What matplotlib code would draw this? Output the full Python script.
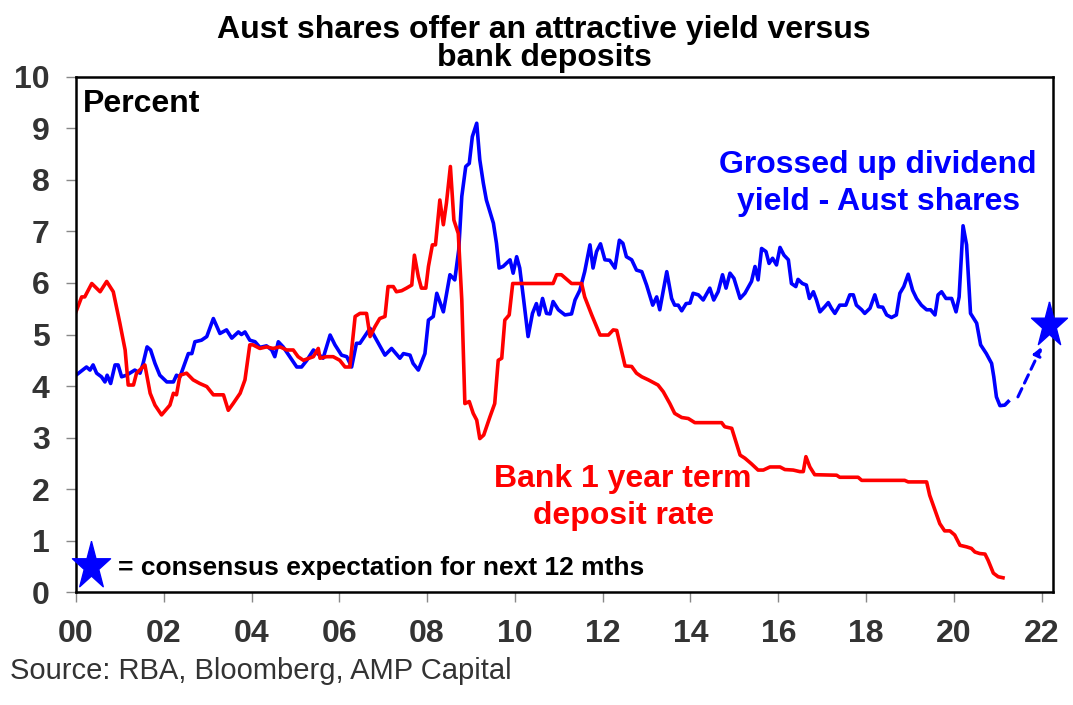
import matplotlib
matplotlib.use('Agg')
import matplotlib.pyplot as plt
from matplotlib.path import Path

plt.rcParams['font.family'] = ['Liberation Sans', 'DejaVu Sans']

# years since 2000
div_x = [0.0, 0.24, 0.32, 0.39, 0.47, 0.58, 0.66, 0.71, 0.79, 0.89, 0.96, 1.04, 1.15, 1.34, 1.46, 1.53,
         1.62, 1.70, 1.80, 1.91, 2.07, 2.22, 2.29, 2.37, 2.48, 2.56, 2.64, 2.71, 2.86, 2.98, 3.13, 3.28,
         3.43, 3.55, 3.70, 3.77, 3.85, 3.96, 4.08, 4.19, 4.34, 4.46, 4.53, 4.61, 4.72, 4.87, 5.03, 5.14,
         5.26, 5.41, 5.63, 5.79, 5.90, 6.05, 6.17, 6.28, 6.39, 6.47, 6.70, 6.85, 7.04, 7.19, 7.38, 7.46,
         7.61, 7.68, 7.80, 7.95, 8.03, 8.14, 8.22, 8.37, 8.52, 8.63, 8.72, 8.79, 8.88, 8.96, 9.03, 9.13,
         9.20, 9.28, 9.35, 9.51, 9.58, 9.64, 9.73, 9.89, 9.96, 10.04, 10.11, 10.20, 10.30, 10.40, 10.49,
         10.55, 10.63, 10.72, 10.80, 10.87, 10.99, 11.14, 11.29, 11.37, 11.48, 11.59, 11.71, 11.78, 11.86,
         11.95, 12.05, 12.16, 12.28, 12.38, 12.46, 12.54, 12.66, 12.77, 12.89, 13.00, 13.14, 13.23, 13.30,
         13.46, 13.57, 13.64, 13.72, 13.80, 13.90, 13.99, 14.06, 14.18, 14.29, 14.44, 14.53, 14.63, 14.73,
         14.81, 14.90, 14.99, 15.13, 15.24, 15.39, 15.47, 15.54, 15.62, 15.72, 15.79, 15.87, 15.96, 16.04,
         16.13, 16.23, 16.30, 16.40, 16.45, 16.55, 16.64, 16.71, 16.80, 16.87, 16.95, 17.06, 17.14, 17.21,
         17.29, 17.40, 17.54, 17.63, 17.71, 17.78, 17.90, 17.97, 18.09, 18.20, 18.28, 18.38, 18.47, 18.58,
         18.69, 18.77, 18.86, 18.96, 19.06, 19.15, 19.26, 19.38, 19.47, 19.57, 19.64, 19.72, 19.82, 19.95,
         20.05, 20.12, 20.21, 20.29, 20.38, 20.52, 20.61, 20.74, 20.86, 20.91, 20.97, 21.05, 21.16, 21.24]
div_y = [4.21, 4.37, 4.31, 4.41, 4.25, 4.18, 4.08, 4.21, 4.05, 4.41, 4.41, 4.18, 4.21, 4.31, 4.25, 4.44,
         4.76, 4.70, 4.44, 4.21, 4.08, 4.08, 4.21, 4.18, 4.44, 4.63, 4.63, 4.86, 4.89, 4.96, 5.31, 5.02,
         5.09, 4.93, 5.05, 5.00, 5.05, 4.89, 4.86, 4.75, 4.78, 4.70, 4.57, 4.86, 4.76, 4.57, 4.37, 4.37,
         4.50, 4.70, 4.54, 4.99, 4.80, 4.60, 4.57, 4.37, 4.83, 4.83, 5.12, 4.89, 4.60, 4.73, 4.54, 4.63,
         4.60, 4.44, 4.31, 4.63, 5.28, 5.35, 5.80, 5.44, 6.16, 6.06, 6.64, 7.68, 8.26, 8.32, 8.84, 9.10,
         8.39, 7.94, 7.61, 7.16, 6.77, 6.29, 6.32, 6.45, 6.19, 6.51, 6.29, 5.67, 4.96, 5.41, 5.60,
         5.38, 5.70, 5.41, 5.40, 5.64, 5.48, 5.38, 5.40, 5.67, 5.86, 6.22, 6.74, 6.29, 6.61,
         6.76, 6.45, 6.44, 6.29, 6.83, 6.77, 6.51, 6.45, 6.25, 6.22, 5.96, 5.57, 5.73, 5.48,
         6.22, 5.70, 5.57, 5.57, 5.46, 5.60, 5.61, 5.80, 5.77, 5.67, 5.90, 5.67, 5.83, 6.16,
         5.90, 6.19, 6.09, 5.70, 5.80, 6.03, 6.32, 6.06, 6.67, 6.61, 6.38, 6.48, 6.35, 6.69,
         6.54, 6.45, 5.99, 5.93, 6.07, 5.99, 5.96, 5.70, 5.83, 5.67, 5.44, 5.54, 5.62, 5.51,
         5.41, 5.57, 5.57, 5.77, 5.77, 5.57, 5.48, 5.41, 5.51, 5.77, 5.54, 5.53, 5.38, 5.33,
         5.38, 5.80, 5.93, 6.17, 5.86, 5.70, 5.57, 5.48, 5.48, 5.38, 5.77, 5.83, 5.70, 5.70,
         5.44, 5.73, 7.11, 6.74, 5.41, 5.22, 4.80, 4.63, 4.44, 4.18, 3.79, 3.62, 3.63, 3.70]

dep_x = [0.0, 0.13, 0.20, 0.36, 0.55, 0.70, 0.85, 1.00, 1.12, 1.19, 1.31, 1.38, 1.57, 1.69, 1.80, 1.95,
         2.14, 2.22, 2.29, 2.37, 2.52, 2.67, 2.82, 2.98, 3.13, 3.36, 3.47, 3.58, 3.74, 3.85, 3.96, 4.03,
         4.19, 4.34, 4.49, 4.65, 4.80, 4.95, 5.06, 5.18, 5.41, 5.52, 5.56, 5.71, 5.86, 6.01, 6.13, 6.24,
         6.36, 6.47, 6.62, 6.70, 6.81, 6.92, 7.04, 7.11, 7.23, 7.30, 7.42, 7.53, 7.65, 7.71, 7.80, 7.87,
         7.97, 8.03, 8.12, 8.19, 8.29, 8.37, 8.44, 8.53, 8.61, 8.71, 8.79, 8.86, 8.96, 9.05, 9.13, 9.20,
         9.29, 9.43, 9.54, 9.62, 9.70, 9.77, 9.87, 9.95, 10.04, 10.87, 10.95, 11.06, 11.29, 11.52, 11.59,
         11.75, 11.94, 12.13, 12.24, 12.32, 12.51, 12.66, 12.77, 12.89, 13.04, 13.26, 13.38, 13.53, 13.64,
         13.80, 13.95, 14.10, 14.71, 14.78, 14.94, 15.13, 15.24, 15.39, 15.54, 15.66, 15.81, 16.04, 16.15,
         16.34, 16.49, 16.57, 16.63, 16.72, 16.83, 17.33, 17.40, 17.82, 17.90, 18.88, 18.96, 19.38, 19.45,
         19.57, 19.68, 19.79, 19.91, 20.02, 20.14, 20.29, 20.40, 20.48, 20.59, 20.71, 20.78, 20.90, 21.01,
         21.12]
dep_y = [5.44, 5.73, 5.73, 5.99, 5.83, 6.03, 5.83, 5.22, 4.70, 4.02, 4.02, 4.25, 4.41, 3.86, 3.63, 3.44,
         3.63, 3.86, 3.83, 4.21, 4.25, 4.12, 4.05, 3.99, 3.83, 3.83, 3.53, 3.66, 3.86, 4.12, 4.80, 4.80,
         4.73, 4.76, 4.73, 4.76, 4.70, 4.70, 4.57, 4.50, 4.57, 4.73, 4.54, 4.57, 4.57, 4.50, 4.37, 4.37,
         5.35, 5.41, 5.41, 4.96, 5.15, 5.31, 5.35, 5.93, 5.93, 5.83, 5.85, 5.90, 5.96, 6.54, 6.12, 5.90,
         5.90, 6.32, 6.74, 6.74, 7.61, 7.13, 7.55, 8.26, 7.22, 6.96, 5.67, 3.66, 3.70, 3.47, 3.34, 2.98,
         3.05, 3.40, 3.66, 4.50, 4.54, 5.28, 5.38, 5.99, 5.99, 5.99, 6.16, 6.16, 5.99, 5.99, 5.73,
         5.38, 4.99, 4.99, 5.09, 5.08, 4.39, 4.38, 4.25, 4.18, 4.12, 4.02, 3.89, 3.66, 3.47,
         3.39, 3.37, 3.29, 3.29, 3.21, 3.18, 2.66, 2.60, 2.49, 2.37, 2.37, 2.43, 2.43, 2.38,
         2.37, 2.34, 2.34, 2.63, 2.43, 2.28, 2.27, 2.23, 2.23, 2.17, 2.17, 2.14, 2.14, 1.88,
         1.59, 1.33, 1.19, 1.19, 1.11, 0.91, 0.88, 0.85, 0.78, 0.75, 0.74, 0.62, 0.37, 0.30,
         0.28]

# consensus expectation for the next 12 months
fc_start = (21.46, 3.79)
fc_end = (22.0, 4.76)
fc_star = (22.16, 5.19)

xticks = list(range(0, 23, 2))
xlabels = ['%02d' % t for t in xticks]

BLUE = '#0000FF'
RED = '#FF0000'
GREY = '#333333'

# slightly tall star like the original
star = Path.unit_regular_star(5, 0.381966)
star_verts = [(x * 0.8, y) for x, y in star.vertices]

fig = plt.figure(figsize=(10.73, 7.05), dpi=100)
ax = fig.add_axes([0.0708, 0.160, 0.9106, 0.731])

ax.plot(div_x, div_y, color=BLUE, lw=2.6)
ax.plot(dep_x, dep_y, color=RED, lw=2.6)

ax.annotate('', xy=fc_end, xytext=fc_start,
            arrowprops=dict(arrowstyle='-|>', color=BLUE, lw=2.2, linestyle=(0, (3, 2)),
                            mutation_scale=12, shrinkA=0, shrinkB=0))
ax.plot([fc_star[0]], [fc_star[1]], marker=star_verts, color=BLUE, markersize=34, clip_on=False,
        zorder=5)

ax.set_xlim(0, 22.26)
ax.set_ylim(0, 10)
ax.set_xticks(xticks)
ax.set_xticklabels(xlabels)
ax.set_yticks(range(0, 11))
ax.tick_params(axis='both', direction='out', length=7, width=1, color='#888888',
               labelsize=23, labelcolor=GREY, pad=12)
for lab in ax.get_xticklabels() + ax.get_yticklabels():
    lab.set_fontweight('bold')
for s in ax.spines.values():
    s.set_linewidth(1.8)
    s.set_color('black')

ax.text(0.007, 0.948, 'Percent', transform=ax.transAxes, fontsize=23, fontweight='bold',
        ha='left', va='center')
ax.text(0.821, 0.793, 'Grossed up dividend\nyield - Aust shares', transform=ax.transAxes,
        fontsize=23, fontweight='bold', color=BLUE, ha='center', va='center', linespacing=1.32)
ax.text(0.56, 0.184, 'Bank 1 year term\ndeposit rate', transform=ax.transAxes,
        fontsize=23, fontweight='bold', color=RED, ha='center', va='center', linespacing=1.32)

ax.plot([0.34], [0.50], marker=star_verts, color=BLUE, markersize=36, clip_on=False, zorder=5)
ax.text(0.96, 0.47, '= consensus expectation for next 12 mths', fontsize=19, fontweight='bold',
        ha='left', va='center')

fig.text(0.507, 0.9375, 'Aust shares offer an attractive yield versus\nbank deposits', fontsize=23,
         fontweight='bold', ha='center', va='center', linespacing=0.92)
fig.text(0.0093, 0.048, 'Source: RBA, Bloomberg, AMP Capital', fontsize=21, color=GREY,
         ha='left', va='center')

fig.savefig('out.png', dpi=100)
